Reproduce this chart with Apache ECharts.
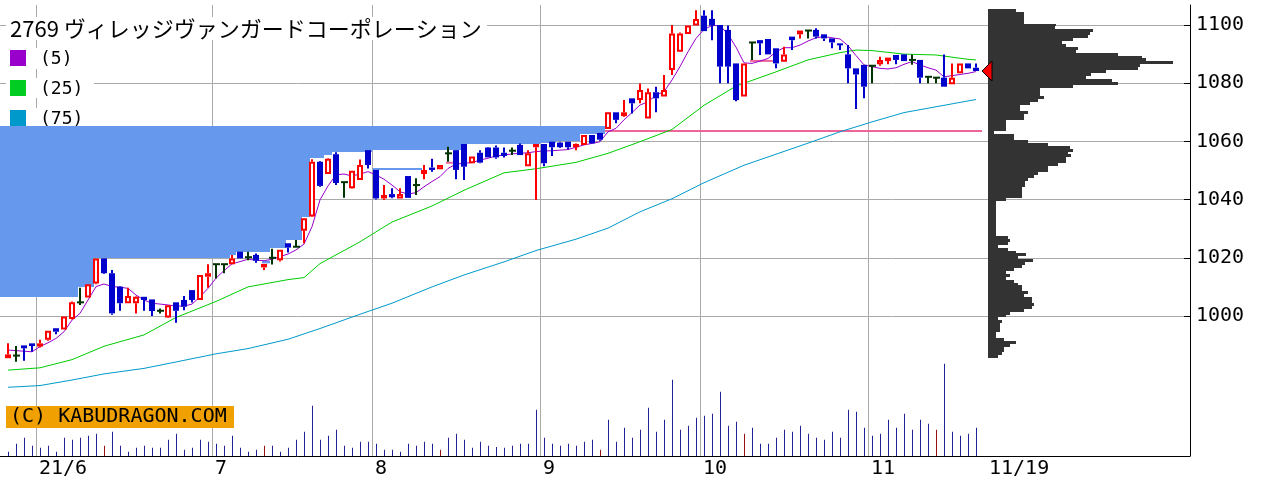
<!DOCTYPE html>
<html><head><meta charset="utf-8">
<script src="https://cdn.jsdelivr.net/npm/echarts@6/dist/echarts.min.js"></script>
<style>html,body{margin:0;padding:0;background:#fff}#c{width:1280px;height:482px}</style>
</head><body><div id="c"></div>
<script>
// ---------------- data ----------------
const title = '2769 ヴィレッジヴァンガードコーポレーション';
const maLabels = ['(5)', '(25)', '(75)'];
const monthLabels = ['21/6', '7', '8', '9', '10', '11'];
const monthStartIdx = [4, 26, 46, 67, 87, 108];
const lastDateLabel = '11/19';

const open = [985.5,986.4,989.9,990.6,989.5,991.8,995.8,995.4,999.0,1004.7,1006.4,1011.2,1019.8,1014.7,1010.1,1004.4,1004.4,1006.6,1005.7,1001.8,
999.5,1004.7,1005.5,1008.9,1005.5,1013.5,1017.8,1017.8,1017.8,1022.1,1020.2,1021.0,1016.7,1020.0,1019.2,1025.0,1023.8,1029.3,1034.2,1053.0,
1048.8,1055.6,1046.0,1043.9,1046.7,1057.0,1050.2,1040.4,1041.9,1040.4,1048.1,1045.0,1048.8,1051.0,1050.4,1055.9,1057.0,1059.1,1052.5,1056.1,
1057.9,1057.9,1056.1,1056.8,1058.8,1051.5,1058.0,1059.1,1059.9,1059.6,1059.9,1058.0,1058.8,1062.2,1062.9,1064.3,1070.0,1068.7,1074.8,1074.2,
1067.9,1076.9,1075.4,1084.5,1090.8,1096.9,1099.8,1103.2,1102.1,1100.0,1098.3,1086.8,1075.4,1094.0,1094.8,1095.2,1092.0,1087.4,1096.0,1096.8,
1098.1,1098.3,1096.8,1095.4,1093.7,1089.9,1085.1,1086.3,1086.0,1086.5,1087.6,1089.7,1089.9,1088.0,1088.0,1082.2,1081.9,1081.9,1079.6,1083.4,
1086.8,1085.3];
const close = [986.8,986.4,988.9,989.7,990.6,994.9,994.6,999.8,1004.7,1004.7,1010.9,1019.8,1014.7,1000.9,1004.4,1006.9,1006.6,1005.5,1001.7,1001.8,
1003.7,1001.8,1003.2,1005.5,1014.1,1014.7,1017.8,1017.8,1019.8,1019.8,1020.2,1019.0,1017.9,1020.0,1022.8,1023.5,1023.8,1033.6,1053.0,1044.7,
1054.0,1045.7,1046.0,1049.9,1051.9,1051.9,1040.4,1041.6,1040.8,1041.9,1040.6,1045.0,1050.2,1050.2,1051.9,1055.9,1050.2,1051.3,1054.8,1052.7,
1054.5,1054.5,1055.0,1056.8,1055.3,1055.9,1059.1,1052.5,1058.0,1058.0,1058.0,1059.1,1062.2,1059.3,1060.6,1070.0,1067.4,1070.0,1073.1,1077.7,
1076.9,1074.8,1077.7,1097.1,1097.1,1099.8,1102.1,1097.9,1099.8,1085.7,1085.7,1074.2,1086.8,1094.0,1093.7,1089.9,1086.8,1089.9,1094.8,1098.1,
1098.1,1096.0,1095.4,1094.0,1093.1,1085.1,1083.0,1078.8,1086.0,1088.0,1088.8,1088.0,1087.6,1088.0,1081.9,1082.2,1081.9,1078.8,1081.9,1086.8,
1085.1,1084.2];
const low = [985.5,984.3,984.6,987.7,989.2,991.5,993.7,995.4,998.8,1003.8,1006.4,1010.9,1014.4,1000.4,1001.8,1004.4,1000.9,1001.8,1000.0,1000.9,
999.3,997.7,1002.0,1004.6,1005.5,1009.7,1012.9,1014.7,1017.8,1019.8,1019.2,1018.3,1015.8,1017.7,1018.7,1021.8,1023.8,1025.0,1034.0,1044.4,
1048.7,1045.0,1040.6,1043.7,1046.7,1050.7,1040.0,1039.9,1040.5,1040.4,1040.6,1041.6,1047.0,1049.6,1050.4,1053.0,1047.0,1046.7,1052.5,1052.5,
1054.5,1054.0,1054.5,1055.3,1055.3,1051.5,1039.9,1051.5,1055.0,1057.7,1057.3,1057.0,1058.8,1059.3,1060.2,1064.3,1066.2,1068.5,1069.6,1073.1,
1067.9,1070.0,1075.4,1082.8,1090.8,1096.9,1099.8,1097.9,1094.8,1080.0,1080.0,1073.8,1075.4,1088.0,1089.7,1089.9,1085.1,1087.4,1091.4,1095.4,
1095.4,1095.4,1094.5,1092.0,1091.4,1080.0,1071.1,1074.8,1080.0,1086.0,1086.5,1086.5,1087.6,1086.3,1080.0,1080.0,1080.0,1078.8,1079.6,1083.4,
1085.1,1084.2];
const high = [990.6,989.7,989.9,990.6,991.8,995.0,995.8,999.8,1005.0,1009.7,1010.9,1019.8,1019.8,1015.8,1010.3,1009.7,1006.8,1006.6,1005.7,1002.6,
1003.7,1004.7,1006.9,1008.9,1014.1,1017.8,1017.8,1017.8,1021.0,1022.1,1022.1,1021.5,1017.9,1023.1,1022.8,1025.0,1026.1,1033.6,1053.9,1053.3,
1054.2,1056.3,1046.0,1050.0,1053.8,1057.0,1050.2,1045.0,1043.9,1043.9,1048.1,1047.3,1051.9,1054.0,1052.0,1058.2,1057.0,1059.1,1054.8,1057.0,
1058.1,1058.6,1057.9,1057.9,1059.3,1057.0,1059.1,1059.1,1059.9,1059.9,1059.9,1059.3,1062.2,1062.2,1062.9,1070.0,1070.0,1074.2,1074.8,1079.9,
1078.2,1078.8,1082.8,1100.0,1097.4,1099.8,1105.1,1105.1,1105.1,1100.0,1099.8,1086.8,1086.8,1094.0,1094.8,1095.2,1092.0,1092.5,1096.0,1098.1,
1098.1,1098.9,1096.8,1095.4,1093.7,1093.1,1085.1,1086.3,1086.0,1089.1,1088.8,1089.7,1089.9,1089.9,1088.0,1082.2,1081.9,1089.9,1086.8,1086.8,
1086.8,1086.8];
const volume = [13,37,55,31,25,31,13,55,49,55,61,67,31,73,31,13,25,31,25,25,
49,67,19,25,49,43,37,31,61,25,13,19,31,31,13,25,49,73,151,49,
61,79,31,25,43,43,37,19,19,13,37,31,43,37,19,55,67,49,25,43,
31,27,25,31,37,37,139,55,37,31,37,31,43,49,19,109,43,85,55,79,
145,73,109,229,79,91,115,121,127,193,91,103,67,85,37,37,55,79,73,91,
67,55,49,73,55,139,133,85,61,67,109,85,127,79,109,97,79,277,73,61,
67,85];
const volumeRedIdx = [12, 32, 54, 74, 92, 116];

const ma5 = [988.3,988.1,987.9,987.7,989.5,990.8,992.3,994.6,998.6,1000.9,1005.5,1010.1,1011.0,1010.1,1009.9,1009.5,1007.2,1005.5,1004.4,1004.1,
1003.8,1003.4,1003.4,1004.1,1006.6,1009.5,1013.0,1015.6,1017.9,1018.7,1019.5,1019.2,1019.0,1019.5,1020.4,1021.3,1022.7,1024.7,1030.7,1039.9,
1044.7,1048.5,1048.8,1048.1,1048.8,1049.6,1048.5,1047.0,1045.0,1042.7,1041.9,1042.4,1044.4,1046.2,1047.9,1050.7,1052.2,1052.5,1052.7,1053.6,
1054.2,1055.0,1055.3,1055.7,1055.9,1056.1,1056.5,1056.7,1056.8,1057.0,1057.2,1058.0,1058.8,1059.3,1059.9,1063.3,1064.5,1067.4,1069.9,1072.5,
1073.6,1075.9,1077.1,1081.1,1085.7,1090.8,1095.4,1098.5,1099.8,1099.8,1096.8,1092.4,1087.0,1086.8,1087.6,1088.5,1090.8,1092.2,1092.2,1093.1,
1094.5,1095.6,1096.0,1095.6,1095.2,1092.9,1089.5,1086.3,1085.7,1085.1,1084.9,1085.3,1086.5,1087.4,1086.3,1085.3,1084.5,1082.2,1082.6,1083.0,
1083.4,1084.0];
const ma25Idx = [0,4,8,12,17,21,26,30,35,37,39,44,48,53,57,62,66,71,75,79,83,87,91,96,100,104,106,108,112,116,120,121];
const ma25Val = [981.4,982.2,985.0,989.6,993.5,999.5,1005.0,1010.0,1012.5,1013.2,1018.0,1025.5,1032.3,1037.8,1043.2,1049.2,1050.6,1052.8,1055.9,1059.9,1064.1,1072.4,1079.0,1083.9,1088.0,1090.5,1091.4,1091.2,1090.0,1089.7,1088.2,1088.0];
const ma75Idx = [0,4,8,12,17,21,26,30,35,39,44,48,53,57,62,66,71,75,79,83,87,92,96,100,104,108,112,116,121];
const ma75Val = [975.5,976.1,978.0,980.1,982.0,984.2,987.0,988.8,992.0,995.7,1000.6,1004.4,1010.0,1014.1,1018.6,1022.5,1026.4,1030.2,1035.8,1040.3,1045.8,1051.8,1055.6,1059.4,1063.3,1066.7,1069.9,1071.9,1074.4];

// overhead band (from candle index, to candle index, lower price); upper price is bandTop
const bandTop = 1065.3;
const bandFrom = [-1, 8.75, 10.75, 27.75, 28.5, 32.75, 34.75, 36.75, 37.75, 39.5, 40.5, 45.5, 56.75, 66.5, 68.5, 71.5];
const bandTo   = [8.75, 10.75, 27.75, 28.5, 32.75, 34.75, 36.75, 37.75, 39.5, 40.5, 45.5, 56.75, 66.5, 68.5, 71.5, 74.6];
const bandLow  = [1006.4, 1009.9, 1019.8, 1021.0, 1022.1, 1023.3, 1026.0, 1034.0, 1054.2, 1055.3, 1056.5, 1057.0, 1059.1, 1059.3, 1060.2, 1062.5];
// gap marks: from idx, to idx, top price, bottom price, kind
const gapMarks = [[45.6, 51.75, 1050.9, 1050.2, 'down'], [31.75, 32.75, 1019.0, 1018.1, 'down'],
                  [54.75, 55.6, 1053.0, 1052.4, 'up'], [92.75, 95.6, 1088.0, 1087.4, 'up']];
const resistancePrice = 1063.6, resistanceFrom = 74.6, resistanceTo = 121.75;

// price-volume profile, 1-yen bins from 1105 down to 985
const profileTopPrice = 1105;
const profileVolume = [28,36,36,36,36,68,67,105,102,100,85,74,78,90,88,130,154,158,185,152,
150,118,103,98,124,130,85,52,52,52,56,50,42,32,32,40,36,36,18,18,
18,18,6,26,26,40,60,82,85,80,83,78,78,70,60,60,50,46,40,37,
37,34,34,34,34,18,8,8,8,8,8,8,8,8,8,8,8,8,20,22,
20,10,20,28,38,30,45,37,34,26,18,22,18,26,30,34,34,40,36,44,
44,46,44,36,22,18,10,14,12,12,12,8,8,16,28,22,16,16,14,10];

// ---------------- chart ----------------
const RED = '#FF0000', BLUE = '#0000CC', DOJI = '#003300', GRID = '#AAAAAA';
const Y_MAX = 1100 + 20 / 2.91;           // price at the top of the plot
const Y_MIN = Y_MAX - 451 / 2.91;         // price at the bottom line
const X_MIN = -1, X_MAX = -1 + 1190 / 8;  // 8 px per trading day

const candleData = open.map((o, i) => [i, o, close[i], low[i], high[i]]);
const volData = volume.map((v, i) => [i, v, volumeRedIdx.indexOf(i) >= 0 ? 1 : 0]);
const profileData = profileVolume.map((v, k) => [profileTopPrice - k, v]);
const bandData = bandFrom.map((f, k) => [f, bandTo[k], bandLow[k]]);
const lastIdx = close.length - 1;

function candleItem(params, api) {
  const i = api.value(0), o = api.value(1), c = api.value(2), l = api.value(3), h = api.value(4);
  const cx = Math.round(api.coord([i, o])[0]);
  const yO = api.coord([i, o])[1], yC = api.coord([i, c])[1], yL = api.coord([i, l])[1], yH = api.coord([i, h])[1];
  const kids = [];
  const wick = (y1, y2, col) => { if (y2 - y1 > 0.3) kids.push({type: 'rect', shape: {x: cx - 1, y: y1, width: 2, height: y2 - y1}, style: {fill: col}}); };
  if (Math.abs(o - c) < 0.05) {
    wick(yH, Math.max(yL, yH + 2), DOJI);
    kids.push({type: 'rect', shape: {x: cx - 3, y: yO - 1, width: 7, height: 2}, style: {fill: DOJI}});
  } else if (c > o) {
    wick(yH, yC, RED); wick(yO, yL, RED);
    kids.push({type: 'rect', shape: {x: cx - 2, y: yC + 1, width: 4, height: Math.max(yO - yC - 2, 1)}, style: {fill: '#fff', stroke: RED, lineWidth: 2}});
  } else {
    wick(yH, yO, BLUE); wick(yC, yL, BLUE);
    kids.push({type: 'rect', shape: {x: cx - 3, y: yO, width: 6, height: Math.max(yC - yO, 2)}, style: {fill: BLUE}});
  }
  return {type: 'group', children: kids};
}

const chart = echarts.init(document.getElementById('c'), null, {renderer: 'canvas', width: 1280, height: 482});
chart.setOption({
  animation: false,
  backgroundColor: '#fff',
  grid: [
    {left: 0, top: 25, width: 1190, height: 291},
    {left: 0, top: 5, width: 1190, height: 451},
    {left: 0, top: 356, width: 1190, height: 100},
    {left: 988, top: 5, width: 202, height: 451}
  ],
  xAxis: [
    {gridIndex: 0, type: 'value', min: 0, max: 1, show: false},
    {gridIndex: 1, type: 'value', min: X_MIN, max: X_MAX, show: false},
    {gridIndex: 2, type: 'value', min: X_MIN, max: X_MAX, axisLine: {show: true, onZero: false, lineStyle: {color: '#000', width: 1}},
     axisTick: {show: false}, axisLabel: {show: false}, splitLine: {show: false}},
    {gridIndex: 3, type: 'value', min: 0, max: 202, show: false}
  ],
  yAxis: [
    {gridIndex: 0, type: 'value', position: 'right', min: 1000, max: 1100, interval: 20,
     axisLine: {show: false, onZero: false}, axisTick: {show: true, inside: true, length: 6, lineStyle: {color: '#000'}},
     axisLabel: {margin: 6, color: '#000', fontFamily: 'DejaVu Sans Mono', fontSize: 20, formatter: v => String(Math.round(v))},
     splitLine: {show: true, lineStyle: {color: GRID, width: 1}}},
    {gridIndex: 1, type: 'value', position: 'right', min: Y_MIN, max: Y_MAX,
     axisLine: {show: true, onZero: false, lineStyle: {color: '#000', width: 1}}, axisTick: {show: false}, axisLabel: {show: false}, splitLine: {show: false}},
    {gridIndex: 2, type: 'value', min: 0, max: 300, show: false},
    {gridIndex: 3, type: 'value', min: Y_MIN, max: Y_MAX, show: false}
  ],
  series: [
    { // month gridlines
      type: 'custom', xAxisIndex: 1, yAxisIndex: 1, z: 0, silent: true,
      data: monthStartIdx.map(m => [m - 0.5]),
      encode: {x: 0},
      renderItem: (params, api) => {
        const x = Math.round(api.coord([api.value(0), Y_MAX])[0]) + 0.5;
        const cs = params.coordSys;
        return {type: 'line', shape: {x1: x, y1: cs.y, x2: x, y2: cs.y + cs.height}, style: {stroke: GRID, lineWidth: 1}};
      }
    },
    { // overhead band
      type: 'custom', xAxisIndex: 1, yAxisIndex: 1, z: 1, silent: true,
      data: bandData, encode: {x: [0, 1], y: 2},
      renderItem: (params, api) => {
        const p1 = api.coord([api.value(0), bandTop]), p2 = api.coord([api.value(1), api.value(2)]);
        return {type: 'rect', shape: {x: Math.round(p1[0]), y: Math.round(p1[1]), width: Math.round(p2[0]) - Math.round(p1[0]), height: Math.round(p2[1]) - Math.round(p1[1])},
                style: {fill: '#6699EE'}};
      }
    },
    { // gap marks
      type: 'custom', xAxisIndex: 1, yAxisIndex: 1, z: 2, silent: true,
      data: gapMarks, encode: {x: [0, 1], y: [2, 3]},
      renderItem: (params, api) => {
        const g = gapMarks[params.dataIndex];
        const p1 = api.coord([g[0], g[2]]), p2 = api.coord([g[1], g[3]]);
        return {type: 'rect', shape: {x: p1[0], y: p1[1], width: p2[0] - p1[0], height: Math.max(p2[1] - p1[1], 2)},
                style: {fill: g[4] === 'up' ? '#EE6699' : '#6699EE'}};
      }
    },
    { // resistance line
      type: 'line', xAxisIndex: 1, yAxisIndex: 1, z: 2, silent: true, symbol: 'none',
      data: [[resistanceFrom, resistancePrice], [resistanceTo, resistancePrice]],
      lineStyle: {color: '#EE6699', width: 2}
    },
    {name: '(75)', type: 'line', xAxisIndex: 1, yAxisIndex: 1, z: 3, silent: true, symbol: 'none',
     data: ma75Idx.map((x, k) => [x, ma75Val[k]]), lineStyle: {color: '#0099CC', width: 1}},
    {name: '(25)', type: 'line', xAxisIndex: 1, yAxisIndex: 1, z: 3, silent: true, symbol: 'none',
     data: ma25Idx.map((x, k) => [x, ma25Val[k]]), lineStyle: {color: '#00CC00', width: 1}},
    {name: '(5)', type: 'line', xAxisIndex: 1, yAxisIndex: 1, z: 3, silent: true, symbol: 'none',
     data: ma5.map((v, i) => [i, v]), lineStyle: {color: '#9900CC', width: 1}},
    { // candles
      type: 'custom', xAxisIndex: 1, yAxisIndex: 1, z: 5, silent: true,
      data: candleData, encode: {x: 0, y: [1, 2, 3, 4]}, renderItem: candleItem
    },
    { // volume
      type: 'custom', xAxisIndex: 2, yAxisIndex: 2, z: 4, silent: true,
      data: volData, encode: {x: 0, y: 1},
      renderItem: (params, api) => {
        const p = api.coord([api.value(0), api.value(1)]), b = api.coord([api.value(0), 0]);
        const x = Math.round(p[0]);
        return {type: 'rect', shape: {x: x, y: p[1], width: 1, height: b[1] - p[1]},
                style: {fill: api.value(2) ? '#991111' : '#222299'}};
      }
    },
    { // price-volume profile
      type: 'custom', xAxisIndex: 3, yAxisIndex: 3, z: 4, silent: true,
      data: profileData, encode: {x: 1, y: 0},
      renderItem: (params, api) => {
        const pr = api.value(0), v = api.value(1);
        const p1 = api.coord([0, pr + 0.5]), p2 = api.coord([v, pr - 0.5]);
        const y1 = Math.round(p1[1]), y2 = Math.round(p2[1]);
        return {type: 'rect', shape: {x: Math.round(p1[0]), y: y1, width: Math.round(p2[0] - p1[0]), height: y2 - y1},
                style: {fill: '#333333'}};
      }
    }
  ]
});

// ---------------- text & overlays ----------------
const px = (i, p) => chart.convertToPixel({xAxisIndex: 1, yAxisIndex: 1}, [i, p]);
const graphics = [];
monthLabels.forEach((t, k) => {
  const x = Math.round(px(monthStartIdx[k] - 0.5, 1000)[0]) + 3;
  graphics.push({type: 'text', silent: true, style: {text: t, x: x, y: 469, fontFamily: 'DejaVu Sans Mono', fontSize: 20, fill: '#000', verticalAlign: 'middle'}});
});
graphics.push({type: 'text', silent: true, style: {text: lastDateLabel, x: Math.round(px(lastIdx, 1000)[0]) + 13, y: 469,
  fontFamily: 'DejaVu Sans Mono', fontSize: 20, fill: '#000', verticalAlign: 'middle'}});

// current price marker
const tip = px(lastIdx, close[lastIdx]);
graphics.push({type: 'polygon', silent: true, z: 100,
  shape: {points: [[tip[0] + 6, tip[1]], [tip[0] + 16, tip[1] - 10], [tip[0] + 16, tip[1] + 10]]},
  style: {fill: '#FF0000', stroke: '#000', lineWidth: 1}});

// title & legend boxes
graphics.push({type: 'rect', silent: true, shape: {x: 6, y: 17, width: 481, height: 23}, style: {fill: '#fff'}});
graphics.push({type: 'text', silent: true, style: {text: title, x: 10, y: 29, fontFamily: 'Noto Sans CJK JP', fontSize: 22, fill: '#000', verticalAlign: 'middle'}});
const legendColors = ['#9900CC', '#00CC22', '#0099CC'];
const legendBoxes = [[48, 21], [78, 20], [108, 22]];
maLabels.forEach((t, k) => {
  graphics.push({type: 'rect', silent: true, shape: {x: 6, y: legendBoxes[k][0], width: 88, height: legendBoxes[k][1]}, style: {fill: '#fff'}});
  graphics.push({type: 'rect', silent: true, shape: {x: 10, y: 50 + 30 * k, width: 16, height: 16}, style: {fill: legendColors[k]}});
  graphics.push({type: 'text', silent: true, style: {text: t, x: 40, y: 59 + 30 * k, fontFamily: 'DejaVu Sans Mono', fontSize: 18, fill: '#000', verticalAlign: 'middle'}});
});
// copyright box
graphics.push({type: 'rect', silent: true, shape: {x: 6, y: 406, width: 228, height: 22}, style: {fill: '#F0A000'}});
graphics.push({type: 'text', silent: true, style: {text: '(C) KABUDRAGON.COM', x: 10, y: 417, fontFamily: 'DejaVu Sans Mono', fontSize: 20, fill: '#000', verticalAlign: 'middle'}});

chart.setOption({graphic: {elements: graphics}});
</script>
</body></html>
